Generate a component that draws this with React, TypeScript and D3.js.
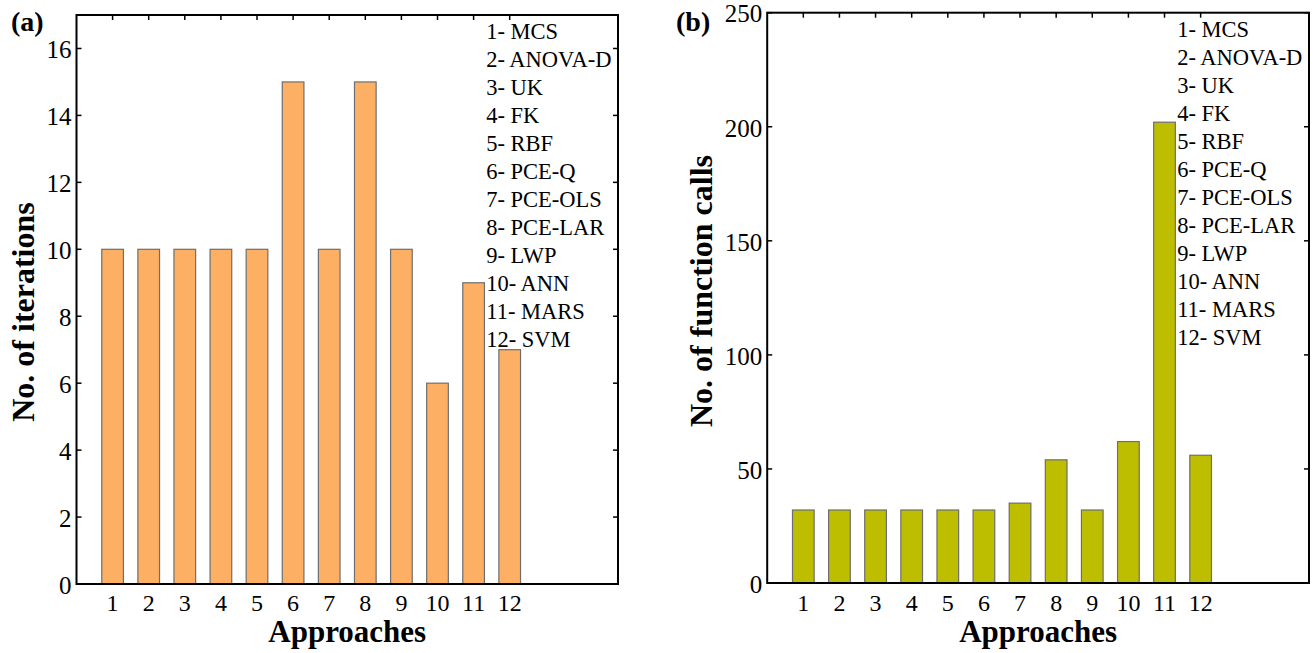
import React from "react";
import * as d3 from "d3";

const approaches = [1, 2, 3, 4, 5, 6, 7, 8, 9, 10, 11, 12];
const iterations = [10, 10, 10, 10, 10, 15, 10, 15, 10, 6, 9, 7];
const functionCalls = [32, 32, 32, 32, 32, 32, 35, 54, 32, 62, 202, 56];
const legendLabels = [
  "1- MCS",
  "2- ANOVA-D",
  "3- UK",
  "4- FK",
  "5- RBF",
  "6- PCE-Q",
  "7- PCE-OLS",
  "8- PCE-LAR",
  "9- LWP",
  "10- ANN",
  "11- MARS",
  "12- SVM",
];
const iterTicks = [0, 2, 4, 6, 8, 10, 12, 14, 16];
const callTicks = [0, 50, 100, 150, 200, 250];

const FONT = "'Liberation Serif', 'Times New Roman', serif";

type PanelProps = {
  tag: string;
  values: number[];
  yMax: number;
  yTicks: number[];
  yLabel: string;
  yLabelY: number;
  fill: string;
  left: number;
  right: number;
  top: number;
  bottom: number;
  tagX: number;
  yLabelX: number;
};

function Panel(p: PanelProps) {
  const x = d3.scaleLinear().domain([0, 15]).range([p.left, p.right]);
  const y = d3.scaleLinear().domain([0, p.yMax]).range([p.bottom, p.top]);
  const bw = x(0.6) - x(0);
  const tl = 5;

  return (
    <g fontFamily={FONT}>
      {/* inward ticks on all four sides */}
      {approaches.map((a) => (
        <g key={"xt" + a} stroke="#000" strokeWidth={1.5}>
          <line x1={x(a)} x2={x(a)} y1={p.top} y2={p.top + tl} />
          <line x1={x(a)} x2={x(a)} y1={p.bottom} y2={p.bottom - tl} />
        </g>
      ))}
      {p.yTicks.map((t) => (
        <g key={"yt" + t} stroke="#000" strokeWidth={1.5}>
          <line x1={p.left} x2={p.left + tl} y1={y(t)} y2={y(t)} />
          <line x1={p.right} x2={p.right - tl} y1={y(t)} y2={y(t)} />
        </g>
      ))}

      {approaches.map((a, i) => (
        <rect
          key={"b" + a}
          x={x(a) - bw / 2}
          y={y(p.values[i])}
          width={bw}
          height={y(0) - y(p.values[i])}
          fill={p.fill}
          stroke="#6e6e6e"
          strokeWidth={1.2}
        />
      ))}

      <rect
        x={p.left}
        y={p.top}
        width={p.right - p.left}
        height={p.bottom - p.top}
        fill="none"
        stroke="#000"
        strokeWidth={2}
      />

      {approaches.map((a) => (
        <text key={"xl" + a} x={x(a)} y={611} fontSize={24} textAnchor="middle">
          {a}
        </text>
      ))}
      {p.yTicks.map((t) => (
        <text
          key={"yl" + t}
          x={p.left - 5}
          y={y(t) + 1}
          dy="0.35em"
          fontSize={25}
          textAnchor="end"
        >
          {t}
        </text>
      ))}

      {legendLabels.map((l, i) => (
        <text key={l} x={x(11.35)} y={p.top + 24 + i * 28} fontSize={22.5}>
          {l}
        </text>
      ))}

      <text
        x={(p.left + p.right) / 2}
        y={642}
        fontSize={31}
        fontWeight="bold"
        textAnchor="middle"
      >
        Approaches
      </text>
      <text
        transform={`translate(${p.yLabelX},${p.yLabelY}) rotate(-90)`}
        fontSize={32}
        fontWeight="bold"
        textAnchor="middle"
      >
        {p.yLabel}
      </text>
      <text x={p.tagX} y={31} fontSize={28} fontWeight="bold">
        {p.tag}
      </text>
    </g>
  );
}

export default function App() {
  return (
    <svg
      width={1316}
      height={653}
      style={{ position: "absolute", left: 0, top: 0, background: "#fff" }}
    >
      <Panel
        tag="(a)"
        values={iterations}
        yMax={17}
        yTicks={iterTicks}
        yLabel="No. of iterations"
        yLabelY={312}
        fill="#FDB063"
        left={76.5}
        right={618}
        top={15}
        bottom={584}
        tagX={11}
        yLabelX={34}
      />
      <Panel
        tag="(b)"
        values={functionCalls}
        yMax={250}
        yTicks={callTicks}
        yLabel="No. of function calls"
        yLabelY={291}
        fill="#BEBE00"
        left={767.2}
        right={1309}
        top={12.7}
        bottom={583}
        tagX={676}
        yLabelX={712}
      />
    </svg>
  );
}
